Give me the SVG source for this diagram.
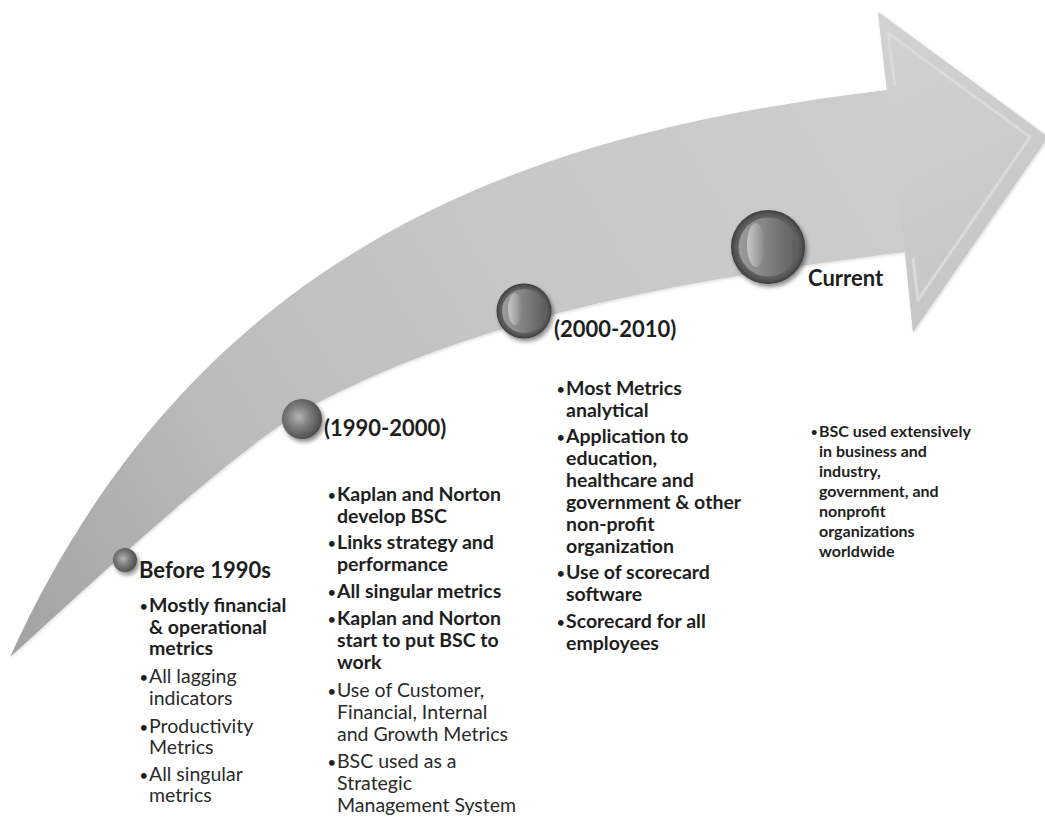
<svg xmlns="http://www.w3.org/2000/svg" width="1045" height="820" viewBox="0 0 1045 820">
  <defs>
    <style>
      text { font-family: Lato, "Open Sans", "Liberation Sans", sans-serif; fill: #1e1e1e; }
      .hd { font-size: 22px; font-weight: bold; }
      .b { font-size: 19.5px; font-weight: bold; }
      .r { font-size: 19.5px; font-weight: normal; fill: #2a2a2a; }
      .s { font-size: 16px; font-weight: bold; }
      .dot { font-size: 13px; font-weight: bold; }
      .dots { font-size: 11px; font-weight: bold; }
    </style>
    <linearGradient id="shaftFill" gradientUnits="userSpaceOnUse" x1="10" y1="657" x2="900" y2="120">
      <stop offset="0" stop-color="#a2a2a2"/>
      <stop offset="0.3" stop-color="#bcbcbc"/>
      <stop offset="0.65" stop-color="#c8c8c9"/>
      <stop offset="1" stop-color="#cdcdce"/>
    </linearGradient>
    <linearGradient id="headFill" gradientUnits="userSpaceOnUse" x1="880" y1="20" x2="1000" y2="300">
      <stop offset="0" stop-color="#d2d2d3"/>
      <stop offset="1" stop-color="#c6c6c7"/>
    </linearGradient>
    <radialGradient id="ball" cx="0.42" cy="0.45" r="0.6">
      <stop offset="0" stop-color="#b4b4b4"/>
      <stop offset="0.45" stop-color="#7e7e7e"/>
      <stop offset="1" stop-color="#4a4a4a"/>
    </radialGradient>
    <radialGradient id="rim" cx="0.5" cy="0.5" r="0.5">
      <stop offset="0.7" stop-color="#6c6c6c"/>
      <stop offset="0.9" stop-color="#555555"/>
      <stop offset="1" stop-color="#3c3c3c"/>
    </radialGradient>
    <linearGradient id="disc" x1="0" y1="0" x2="1" y2="0">
      <stop offset="0" stop-color="#9a9a9a"/>
      <stop offset="0.35" stop-color="#8a8a8a"/>
      <stop offset="1" stop-color="#5e5e5e"/>
    </linearGradient>
    <linearGradient id="gloss" x1="0" y1="0" x2="1" y2="0">
      <stop offset="0" stop-color="#d0d0d0" stop-opacity="0.85"/>
      <stop offset="1" stop-color="#d0d0d0" stop-opacity="0"/>
    </linearGradient>
    <filter id="shadow" x="-40%" y="-40%" width="180%" height="180%">
      <feDropShadow dx="2" dy="3" stdDeviation="2.2" flood-color="#000" flood-opacity="0.45"/>
    </filter>
    <filter id="soft" x="-5%" y="-5%" width="110%" height="110%">
      <feDropShadow dx="1" dy="1" stdDeviation="1.5" flood-color="#000" flood-opacity="0.15"/>
    </filter>
  </defs>

  <!-- curved timeline arrow -->
  <g id="arrow" filter="url(#soft)">
    <path d="M10,657 C200,239 537,132 887,90 L878,12 L1048,137 L913,332 L905,252 C713,276 493,310 313,405 C238,445 90,585 10,657 Z" fill="url(#shaftFill)"/>
    <path d="M887,90 L878,12 L1048,137 L913,332 L905,252 Z" fill="url(#headFill)"/>
    <!-- bevel on the head -->
    <path d="M895,86 L888,33 L1030,137 L918,300 L913,258" fill="none" stroke="#dadadb" stroke-width="3" stroke-linejoin="round"/>
  </g>

  <!-- timeline markers -->
  <g id="node-before-1990s">
    <circle cx="125" cy="560" r="12" fill="url(#ball)" filter="url(#shadow)"/>
    <text class="hd" x="139" y="578">Before 1990s</text>
    <text class="dot" x="140" y="611">•</text>
    <text class="b" x="149" y="612">Mostly financial</text>
    <text class="b" x="149" y="634">&amp; operational</text>
    <text class="b" x="149" y="655">metrics</text>
    <text class="dot" x="140" y="682">•</text>
    <text class="r" x="149" y="683">All lagging</text>
    <text class="r" x="149" y="705">indicators</text>
    <text class="dot" x="140" y="732">•</text>
    <text class="r" x="149" y="733">Productivity</text>
    <text class="r" x="149" y="754">Metrics</text>
    <text class="dot" x="140" y="780">•</text>
    <text class="r" x="149" y="781">All singular</text>
    <text class="r" x="149" y="802">metrics</text>
  </g>

  <g id="node-1990-2000">
    <circle cx="302" cy="419" r="20" fill="url(#ball)" filter="url(#shadow)"/>
    <text class="hd" x="324" y="436">(1990-2000)</text>
    <text class="dot" x="328" y="500">•</text>
    <text class="b" x="337" y="501">Kaplan and Norton</text>
    <text class="b" x="337" y="523">develop BSC</text>
    <text class="dot" x="328" y="548">•</text>
    <text class="b" x="337" y="549">Links strategy and</text>
    <text class="b" x="337" y="571">performance</text>
    <text class="dot" x="328" y="597">•</text>
    <text class="b" x="337" y="598">All singular metrics</text>
    <text class="dot" x="328" y="624">•</text>
    <text class="b" x="337" y="625">Kaplan and Norton</text>
    <text class="b" x="337" y="647">start to put BSC to</text>
    <text class="b" x="337" y="669">work</text>
    <text class="dot" x="328" y="696">•</text>
    <text class="r" x="337" y="697">Use of Customer,</text>
    <text class="r" x="337" y="719">Financial, Internal</text>
    <text class="r" x="337" y="741">and Growth Metrics</text>
    <text class="dot" x="328" y="767">•</text>
    <text class="r" x="337" y="768">BSC used as a</text>
    <text class="r" x="337" y="790">Strategic</text>
    <text class="r" x="337" y="812">Management System</text>
  </g>

  <g id="node-2000-2010">
    <g filter="url(#shadow)">
      <circle cx="524" cy="311" r="27.5" fill="url(#rim)"/>
      <circle cx="524" cy="311" r="22" fill="url(#disc)"/>
      <ellipse cx="515" cy="309" rx="7" ry="16" fill="url(#gloss)"/>
    </g>
    <text class="hd" x="554" y="337">(2000-2010)</text>
    <text class="dot" x="557" y="394">•</text>
    <text class="b" x="566" y="395">Most Metrics</text>
    <text class="b" x="566" y="417">analytical</text>
    <text class="dot" x="557" y="442">•</text>
    <text class="b" x="566" y="443">Application to</text>
    <text class="b" x="566" y="465">education,</text>
    <text class="b" x="566" y="487">healthcare and</text>
    <text class="b" x="566" y="509">government &amp; other</text>
    <text class="b" x="566" y="531">non-profit</text>
    <text class="b" x="566" y="553">organization</text>
    <text class="dot" x="557" y="578">•</text>
    <text class="b" x="566" y="579">Use of scorecard</text>
    <text class="b" x="566" y="601">software</text>
    <text class="dot" x="557" y="627">•</text>
    <text class="b" x="566" y="628">Scorecard for all</text>
    <text class="b" x="566" y="650">employees</text>
  </g>

  <g id="node-current">
    <g filter="url(#shadow)">
      <circle cx="768" cy="247" r="37" fill="url(#rim)"/>
      <circle cx="768" cy="247" r="29.5" fill="url(#disc)"/>
      <ellipse cx="756" cy="245" rx="9" ry="22" fill="url(#gloss)"/>
    </g>
    <text class="hd" x="808" y="286">Current</text>
    <text class="dots" x="811" y="436">•</text>
    <text class="s" x="819" y="437">BSC used extensively</text>
    <text class="s" x="819" y="457">in business and</text>
    <text class="s" x="819" y="477">industry,</text>
    <text class="s" x="819" y="497">government, and</text>
    <text class="s" x="819" y="517">nonprofit</text>
    <text class="s" x="819" y="537">organizations</text>
    <text class="s" x="819" y="557">worldwide</text>
  </g>
</svg>
